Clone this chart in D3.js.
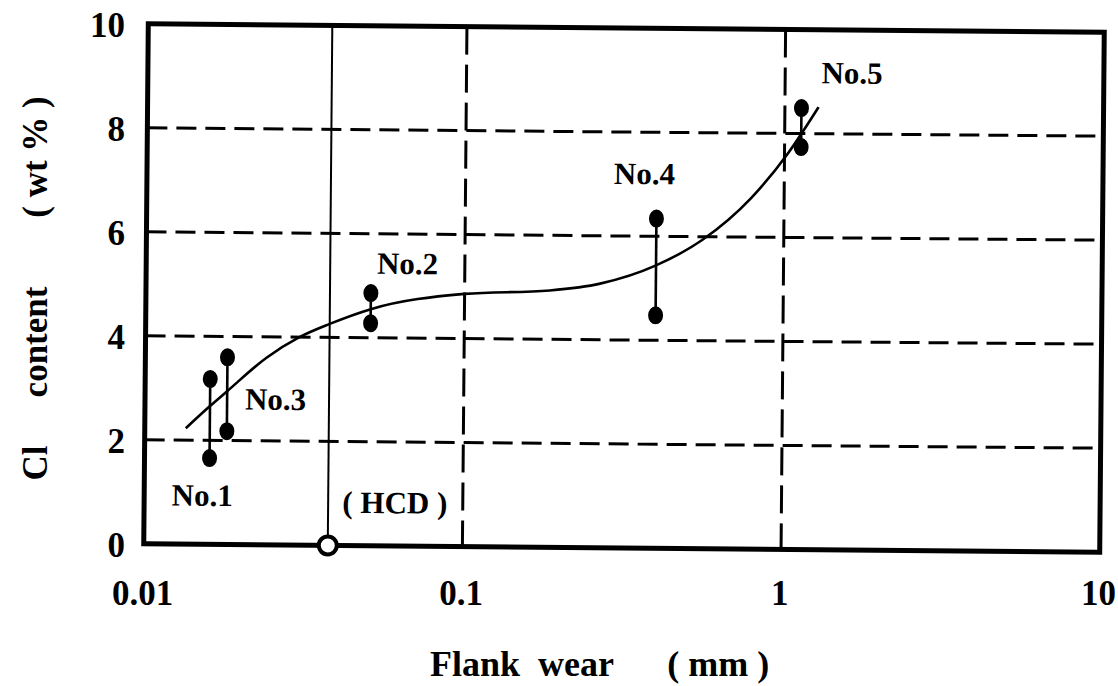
<!DOCTYPE html>
<html>
<head>
<meta charset="utf-8">
<script src="https://cdn.jsdelivr.net/npm/d3@7"></script>
<style>
  html, body { margin: 0; padding: 0; background: #fff; }
  svg { display: block; }
  svg text { white-space: pre; }
</style>
</head>
<body>
<svg id="chart" width="1118" height="686"></svg>
<script>
// ---- data ----
const xTickValues = [0.01, 0.1, 1, 10];
const xTickLabels = ["0.01", "0.1", "1", "10"];
const yTickValues = [0, 2, 4, 6, 8, 10];
const xGridValues = [0.1, 1];
const yGridValues = [2, 4, 6, 8];

const sampleNames = ["No.1", "No.2", "No.3", "No.4", "No.5"];
const sampleX     = [0.016, 0.0508, 0.0181, 0.398, 1.127];
const sampleLow   = [1.66, 4.28, 2.18, 4.48, 7.74];
const sampleHigh  = [3.18, 4.86, 3.60, 6.34, 8.49];
const labelX      = [0.0122, 0.053, 0.0206, 0.292, 1.30];
const labelY      = [0.74, 5.23, 2.6, 7.0, 8.97];

const curveX = [0.01345, 0.016, 0.0181, 0.024, 0.0304, 0.0378, 0.0508, 0.1, 0.185, 0.266, 0.398, 0.556, 0.785, 1.026, 1.275];
const curveY = [2.23, 2.66, 2.95, 3.6, 4.0, 4.26, 4.55, 4.86, 4.94, 5.08, 5.44, 5.94, 6.74, 7.62, 8.51];

const hcdX = 0.0378;
const hcdLabel = "( HCD )";
const hcdLabelX = 0.0419, hcdLabelY = 0.63;

const xTitle = "Flank  wear      ( mm )";
const yTitleParts = ["Cl", "content", "( wt % )"];

// ---- layout ----
const FONT = "Liberation Serif, Times New Roman, serif";
const pLeft = 146, pRight = 1102, pTop = 28, pBottom = 548;
const svg = d3.select("#chart");

const x = d3.scaleLog().domain([0.01, 10]).range([pLeft, pRight]);
const y = d3.scaleLinear().domain([0, 10]).range([pBottom, pTop]);

const plot = svg.append("g").attr("transform", "rotate(0.5, 624, 288)");

// grid lines
plot.selectAll(".hgrid").data(yGridValues).enter().append("line")
  .attr("x1", pLeft).attr("x2", pRight)
  .attr("y1", d => y(d)).attr("y2", d => y(d))
  .attr("stroke", "#000").attr("stroke-width", 3).attr("stroke-dasharray", "20,9");
plot.selectAll(".vgrid").data(xGridValues).enter().append("line")
  .attr("x1", d => x(d)).attr("x2", d => x(d))
  .attr("y1", pTop).attr("y2", pBottom)
  .attr("stroke", "#000").attr("stroke-width", 3).attr("stroke-dasharray", "28,10");

// HCD line
plot.append("line")
  .attr("x1", x(hcdX)).attr("x2", x(hcdX)).attr("y1", pTop).attr("y2", y(0))
  .attr("stroke", "#000").attr("stroke-width", 2);

// fitted curve
const line = d3.line().x(d => x(d[0])).y(d => y(d[1])).curve(d3.curveMonotoneX);
plot.append("path")
  .datum(curveX.map((v, i) => [v, curveY[i]]))
  .attr("d", line).attr("fill", "none").attr("stroke", "#000").attr("stroke-width", 2.6);

// range bars
const samples = sampleNames.map((n, i) => ({ n, x: sampleX[i], lo: sampleLow[i], hi: sampleHigh[i], lx: labelX[i], ly: labelY[i] }));
plot.selectAll(".bar").data(samples).enter().append("line")
  .attr("x1", d => x(d.x)).attr("x2", d => x(d.x))
  .attr("y1", d => y(d.lo)).attr("y2", d => y(d.hi))
  .attr("stroke", "#000").attr("stroke-width", 2.6);
const pts = [];
samples.forEach(d => { pts.push([d.x, d.lo]); pts.push([d.x, d.hi]); });
plot.selectAll(".pt").data(pts).enter().append("ellipse")
  .attr("cx", d => x(d[0])).attr("cy", d => y(d[1]))
  .attr("rx", 7.5).attr("ry", 9).attr("fill", "#000");

// frame
plot.append("rect")
  .attr("x", pLeft).attr("y", pTop).attr("width", pRight - pLeft).attr("height", pBottom - pTop)
  .attr("fill", "none").attr("stroke", "#000").attr("stroke-width", 5);

// HCD open circle
plot.append("circle")
  .attr("cx", x(hcdX)).attr("cy", y(0)).attr("r", 9)
  .attr("fill", "#fff").attr("stroke", "#000").attr("stroke-width", 4);

// labels inside plot
plot.selectAll(".lab").data(samples).enter().append("text")
  .attr("x", d => x(d.lx)).attr("y", d => y(d.ly))
  .attr("font-family", FONT).attr("font-weight", "bold")
  .attr("font-size", 31).text(d => d.n);
plot.append("text").attr("x", x(hcdLabelX)).attr("y", y(hcdLabelY))
  .attr("font-family", FONT).attr("font-weight", "bold")
  .attr("font-size", 31).text(hcdLabel);

// axes (level, outside the scanned rotation)
const xAxis = d3.axisBottom(x).tickValues(xTickValues)
  .tickFormat((d, i) => xTickLabels[i]).tickSize(0);
const gx = svg.append("g").attr("transform", `translate(0,${pBottom})`).call(xAxis);
gx.select(".domain").remove();
gx.attr("font-family", FONT).attr("font-size", 35).attr("font-weight", "bold");
gx.selectAll("text").attr("fill", "#000").attr("y", 57).attr("dy", 0).attr("dx", -4);

const yAxis = d3.axisLeft(y).tickValues(yTickValues).tickSize(0).tickPadding(21);
const gy = svg.append("g").attr("transform", `translate(${pLeft},-3)`).call(yAxis);
gy.select(".domain").remove();
gy.attr("font-family", FONT).attr("font-size", 35).attr("font-weight", "bold");
gy.selectAll("text").attr("fill", "#000").attr("dy", "0.34em");

// axis titles
svg.append("text").attr("x", 430).attr("y", 676)
  .attr("font-family", FONT).attr("font-weight", "bold")
  .attr("font-size", 36).text(xTitle);
const yTitleCenters = [463, 342, 157];
yTitleParts.forEach((t, i) => {
  svg.append("text")
    .attr("transform", `translate(47,${yTitleCenters[i]}) rotate(-90)`)
    .attr("text-anchor", "middle")
    .attr("font-family", FONT).attr("font-weight", "bold")
    .attr("font-size", 35).text(t);
});
</script>
</body>
</html>
